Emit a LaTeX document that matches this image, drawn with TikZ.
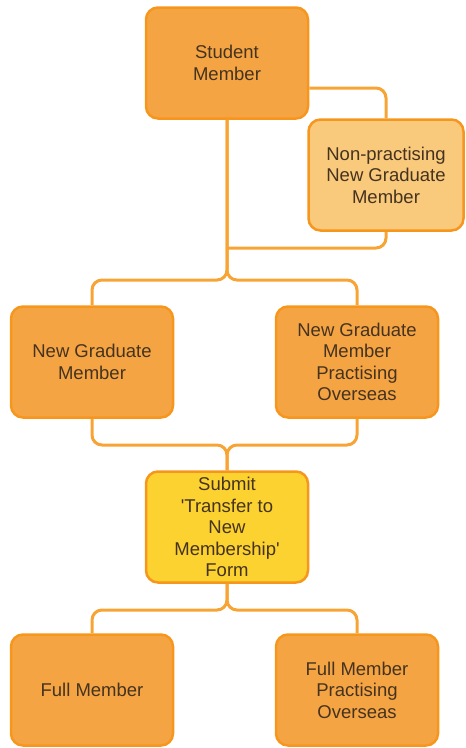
\documentclass[tikz,border=0pt]{standalone}
\usepackage{fontspec}
\newfontfamily\boxFont{Liberation Sans}
\usetikzlibrary{positioning,calc}

\definecolor{boxOrange}{HTML}{F5A444}
\definecolor{edgeOrange}{HTML}{F7961C}
\definecolor{lineOrange}{HTML}{F8A435}
\definecolor{paleOrange}{HTML}{F9C97C}
\definecolor{formYellow}{HTML}{FBD230}
\definecolor{textBrown}{HTML}{45331F}

\begin{document}
\begin{tikzpicture}[x=1pt,y=-1pt,
    member/.style={draw=edgeOrange,fill=boxOrange,line width=2.5pt,rounded corners=12pt,
      minimum width=162pt,minimum height=111pt,inner sep=2pt,align=center,
      text=textBrown,font=\boxFont\fontsize{18.5}{21.5}\selectfont},
    link/.style={draw=lineOrange,line width=3pt,rounded corners=10pt}]
    \useasboundingbox (0,0) rectangle (466,748);
    % membership boxes
    \node[member] (student) at (227,63) {Student\\Member};
    \node[member,fill=paleOrange,minimum width=155pt] (nonPrac) at (386,175) {Non-practising\\New Graduate\\Member};
    \node[member] (newGrad) at (92,362) {New Graduate\\Member};
    \node[member] (gradOverseas) at (357,362) {New Graduate\\Member\\Practising\\Overseas};
    \node[member,fill=formYellow] (submit) at (227,527) {Submit\\'Transfer to\\New\\Membership'\\Form};
    \node[member] (full) at (92,690) {Full Member};
    \node[member] (fullOverseas) at (357,690) {Full Member\\Practising\\Overseas};
    % junction points
    \coordinate (sideJoin) at (student.south |- 0,248);
    \coordinate (gradSplit) at (student.south |- 0,280);
    \coordinate (gradMerge) at (submit.north |- 0,445);
    \coordinate (fullSplit) at (submit.north |- 0,610);
    % connectors
    \draw[link] ([yshift=-25pt]student.east) -| (nonPrac.north);
    \draw[link] (nonPrac.south) |- (sideJoin);
    \draw[link] (student.south) -- (gradSplit) -| (newGrad.north);
    \draw[link] (student.south) -- (gradSplit) -| (gradOverseas.north);
    \draw[link] (newGrad.south) |- (gradMerge) -- (submit.north);
    \draw[link] (gradOverseas.south) |- (gradMerge) -- (submit.north);
    \draw[link] (submit.south) -- (fullSplit) -| (full.north);
    \draw[link] (submit.south) -- (fullSplit) -| (fullOverseas.north);
\end{tikzpicture}
\end{document}
